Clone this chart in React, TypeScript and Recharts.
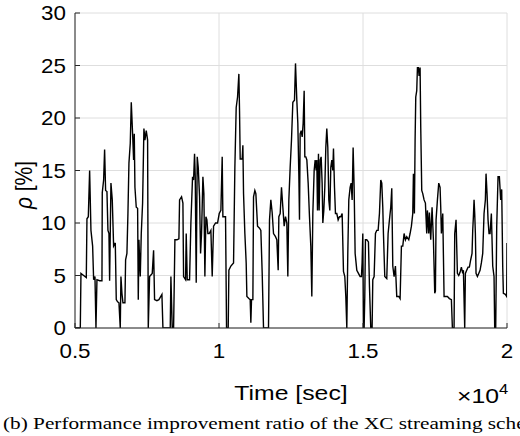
import React from 'react';
import { LineChart, Line, XAxis, YAxis, CartesianGrid } from 'recharts';

// Time [s] , rho [%]
const seg1: [number, number][] = [
  [5000,0],[5184,0],[5207,5.2],[5300,5.0],[5392,4.8],[5415,10.4],[5462,10.6],[5508,15.0],[5554,9.3],[5612,7.8],[5647,4.6],[5693,4.9],[5728,0],[5762,4.6],[5855,4.5],[5936,4.5],[5947,12.9],[5994,14.1],[6028,17.0],[6063,13.1],[6109,13.0],[6144,9.3],[6179,9.0],[6202,4.5],[6248,13.8],[6294,12.2],[6341,7.8],[6399,8.1],[6433,2.7],[6479,2.5],[6526,2.4],[6572,0],[6595,4.9],[6630,3.3],[6665,2.4],[6734,2.4],[6757,6.5],[6803,7.1],[6838,10.9],[6873,15.7],[6919,17.6],[6954,21.5],[7000,18.5],[7035,16.0],[7058,18.5],[7081,13.4],[7127,11.5],[7174,11.4],[7197,2.7],[7220,8.4],[7243,6.5],[7266,4.9],[7301,9.0],[7347,11.9],[7393,19.0],[7428,17.9],[7474,18.8],[7521,17.9],[7544,0],[7590,4.9],[7682,5.2],[7729,7.4],[7763,2.7],[7844,2.6],[7914,2.7],[8018,3.2],[8053,0],[8307,0],[8330,4.9],[8376,0],[8423,0],[8469,8.4],[8539,8.4],[8608,8.5],[8631,12.2],[8700,12.5],[8747,11.9],[8770,4.9],[8839,4.6],[8862,9.0],[8897,4.6],[8978,4.6],[9024,10.0],[9082,14.4],[9117,14.1],[9151,16.6],[9175,14.4],[9209,4.3],[9244,16.3],[9279,15.3],[9325,12.5],[9360,7.1],[9394,9.0],[9441,14.4],[9475,12.8],[9510,4.9],[9545,10.6],[9580,10.3],[9614,9.0],[9660,9.0],[9718,9.3],[9764,4.9],[9811,9.7],[9880,10.0],[9950,10.0],[10008,10.9],
];

const seg2: [number, number][] = [
  [10065,11.2],[10111,16.3],[10135,10.6],[10227,10.6],[10262,0],[10320,0],[10343,5.5],[10412,5.9],[10505,6.2],[10551,15.3],[10597,21.0],[10644,22.0],[10690,24.2],[10713,20.7],[10736,16.1],[10805,16.1],[10829,17.4],[10852,12.8],[10898,9.0],[10944,6.2],[10968,3.0],[11037,2.8],[11083,2.7],[11106,0.5],[11129,2.7],[11176,2.7],[11199,12.5],[11245,13.1],[11280,12.8],[11338,9.7],[11407,9.5],[11453,9.3],[11500,5.2],[11546,0],[11719,0],[11754,10.3],[11800,12.2],[11846,11.0],[11893,9.0],[11962,8.7],[12008,8.4],[12055,5.5],[12078,10.6],[12124,10.9],[12170,13.4],[12217,11.5],[12263,9.7],[12309,10.6],[12355,10.0],[12390,4.9],[12425,12.2],[12471,15.3],[12517,17.9],[12564,21.5],[12621,21.7],[12656,25.2],[12702,21.7],[12737,19.5],[12772,14.7],[12795,10.3],[12818,18.5],[12853,18.8],[12888,18.2],[12922,19.5],[12957,22.6],[12980,16.3],[13015,16.3],[13050,16.0],[13096,13.8],[13142,10.6],[13188,7.8],[13223,3.0],[13258,10.9],[13304,15.0],[13339,16.0],[13373,15.0],[13396,16.0],[13420,11.2],[13454,16.6],[13477,11.2],[13512,16.0],[13547,16.3],[13581,13.8],[13605,10.0],[13639,11.2],[13674,13.4],[13709,17.2],[13743,19.0],[13778,17.2],[13813,12.2],[13848,11.2],[13882,15.3],[13917,16.0],[13952,15.0],[13975,17.1],[14010,13.4],[14044,10.9],[14090,10.9],[14137,10.3],[14183,10.6],[14229,10.6],[14276,10.9],[14322,5.4],[14368,4.9],[14403,3.0],[14438,0],[14472,7.1],[14507,12.2],[14553,13.4],[14588,13.8],[14623,12.2],[14657,17.2],[14692,13.4],[14727,7.1],[14785,5.5],[14842,5.2],
];

const seg3: [number, number][] = [
  [14900,4.9],[14946,4.9],[14969,6.2],[14993,9.0],[15016,0],[15039,0],[15062,3.0],[15085,8.4],[15131,8.4],[15189,8.2],[15224,4.0],[15270,0],[15316,0],[15340,4.6],[15386,4.9],[15432,9.0],[15478,9.3],[15525,9.3],[15571,10.9],[15617,14.1],[15652,13.8],[15687,11.5],[15710,9.0],[15756,4.9],[15825,4.7],[15872,9.0],[15918,10.3],[15964,11.5],[15999,13.3],[16034,5.9],[16080,4.9],[16126,5.9],[16172,3.0],[16242,3.0],[16288,2.8],[16334,7.8],[16381,7.8],[16427,9.0],[16473,8.4],[16519,8.7],[16589,8.4],[16635,9.0],[16681,9.7],[16728,10.9],[16751,14.7],[16785,10.9],[16809,17.9],[16832,22.0],[16866,22.6],[16890,24.8],[16924,24.8],[16947,24.0],[16982,24.8],[17005,19.1],[17040,13.1],[17075,12.8],[17121,12.2],[17167,11.9],[17213,9.0],[17236,11.2],[17283,9.0],[17306,11.0],[17352,8.4],[17398,11.5],[17445,8.4],[17491,3.3],[17514,3.5],[17537,10.3],[17584,12.2],[17630,13.8],[17676,13.4],[17699,11.5],[17722,9.0],[17769,10.9],[17815,3.0],[17861,3.0],[17930,3.0],[18000,2.8],[18069,2.7],[18104,0],[18162,0],[18185,9.0],[18231,10.3],[18278,5.2],[18324,5.0],[18370,5.3],[18416,5.8],[18463,5.2],[18486,5.5],[18532,0],[18555,5.2],[18601,5.5],[18648,5.8],[18694,5.8],[18740,6.5],[18786,7.1],[18810,9.3],[18833,10.6],[18856,12.2],[18879,10.9],[18902,9.0],[18925,5.2],[18972,4.9],[19018,5.2],[19064,5.5],[19110,6.2],[19157,7.1],[19203,10.9],[19249,12.2],[19272,14.7],[19307,12.8],[19342,10.3],[19376,9.0],[19411,9.0],[19457,10.9],[19504,5.9],[19550,4.9],[19573,0],[19608,0],[19643,9.7],[19689,14.4],[19735,14.4],[19781,12.2],[19816,13.2],[19851,5.9],[19874,3.3],[19943,3.2],[19990,3.0],[20000,8.1],
];

const xTicks = [5000, 10000, 15000, 20000];
const yTicks = [0, 5, 10, 15, 20, 25, 30];
const xLabel = 'Time [sec]';
const yLabelSym = 'ρ';
const yLabelRest = ' [%]';
const caption = '(b) Performance improvement ratio of the XC streaming scheme';

const data = [...seg1, ...seg2, ...seg3].map(([t, v]) => ({ t, v }));

const SX = 1.18;
const TSX = 1.12;
const AXIS = '#262626';
const SANS = '"Liberation Sans", Arial, Helvetica, sans-serif';
const SERIF = '"Liberation Serif", "Times New Roman", serif';
const FS = 21;
const TFS = 20;

const fmtX = (v: number) => String(v / 10000);

const BottomTick = (props: any) => {
  const { x, y, payload } = props;
  return (
    <g>
      <line x1={x} y1={y} x2={x} y2={y - 5} stroke={AXIS} strokeWidth={1} />
      <text transform={`translate(${x},${y + 30}) scale(${TSX},1)`} textAnchor="middle" fontSize={TFS} fontFamily={SANS} fill="#000">
        {fmtX(payload.value)}
      </text>
    </g>
  );
};

const TopTick = (props: any) => {
  const { x, y } = props;
  return <line x1={x} y1={y} x2={x} y2={y + 5} stroke={AXIS} strokeWidth={1} />;
};

const LeftTick = (props: any) => {
  const { x, y, payload } = props;
  return (
    <g>
      <line x1={x} y1={y} x2={x + 5} y2={y} stroke={AXIS} strokeWidth={1} />
      <text transform={`translate(${x - 9},${y + 7}) scale(${TSX},1)`} textAnchor="end" fontSize={TFS} fontFamily={SANS} fill="#000">
        {payload.value}
      </text>
    </g>
  );
};

const RightTick = (props: any) => {
  const { x, y } = props;
  return <line x1={x} y1={y} x2={x - 5} y2={y} stroke={AXIS} strokeWidth={1} />;
};

export default function App() {
  return (
    <div style={{ position: 'absolute', left: 0, top: 0, width: 520, height: 436, overflow: 'hidden', background: '#fff' }}>
      <LineChart width={520} height={436} data={data} margin={{ top: 13, right: 13, left: 0, bottom: 0 }}>
        <CartesianGrid stroke="#dedede" strokeWidth={1} />
        <XAxis dataKey="t" type="number" domain={[5000, 20000]} ticks={xTicks} allowDataOverflow
          height={108} tickSize={0} tickMargin={0} tickLine={false} axisLine={{ stroke: AXIS }} tick={<BottomTick />} interval={0} />
        <XAxis xAxisId="top" orientation="top" dataKey="t" type="number" domain={[5000, 20000]} ticks={xTicks} allowDataOverflow
          height={0} tickSize={0} tickMargin={0} tickLine={false} axisLine={{ stroke: AXIS }} tick={<TopTick />} interval={0} />
        <YAxis type="number" domain={[0, 30]} ticks={yTicks} allowDataOverflow width={75}
          tickSize={0} tickMargin={0} tickLine={false} axisLine={{ stroke: AXIS }} tick={<LeftTick />} interval={0} />
        <YAxis yAxisId="right" orientation="right" type="number" domain={[0, 30]} ticks={yTicks} allowDataOverflow width={0}
          tickSize={0} tickMargin={0} tickLine={false} axisLine={{ stroke: AXIS }} tick={<RightTick />} interval={0} />
        <Line type="linear" dataKey="v" stroke="#000" strokeWidth={1.4} dot={false} isAnimationActive={false} />
      </LineChart>
      <svg width={520} height={436} style={{ position: 'absolute', left: 0, top: 0, pointerEvents: 'none' }}>
        <text transform={`translate(291,400) scale(${SX},1)`} textAnchor="middle" fontSize={FS} fontFamily={SANS} fill="#000">{xLabel}</text>
        <text transform={`translate(457,403) scale(${SX},1)`} fontSize={FS} fontFamily={SANS} fill="#000">
          ×10<tspan fontSize={14} dy={-9}>4</tspan>
        </text>
        <text transform={`translate(32,185) scale(${SX},1) rotate(-90)`} textAnchor="middle" fontSize={FS} fontFamily={SANS} fill="#000">
          <tspan fontStyle="italic">{yLabelSym}</tspan>{yLabelRest}
        </text>
        <text transform={`translate(3,429) scale(1.25,1)`} fontSize={17} fontFamily={SERIF} fill="#000">{caption}</text>
      </svg>
    </div>
  );
}
